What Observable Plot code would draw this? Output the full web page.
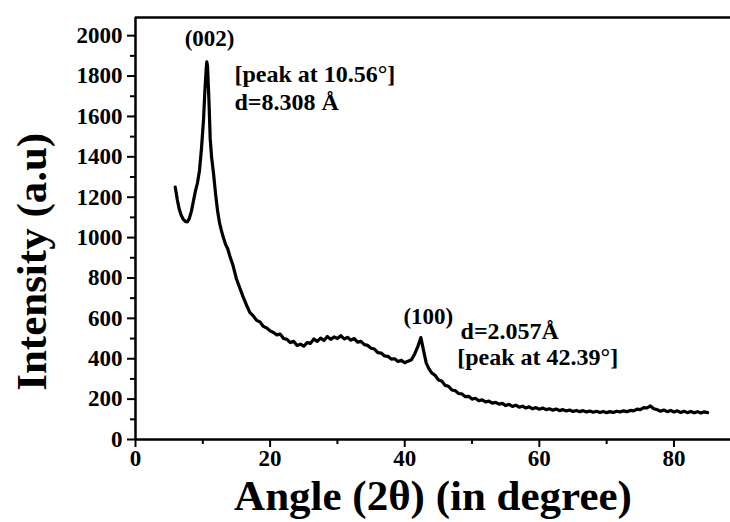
<!DOCTYPE html>
<html><head><meta charset="utf-8">
<script src="https://cdn.jsdelivr.net/npm/d3@7"></script>
<script src="https://cdn.jsdelivr.net/npm/@observablehq/plot@0.6"></script>
<style>body{margin:0;background:#fff}</style>
</head><body><div id="chart"></div>
<script>
const angle = [5.9,6.2,6.5,6.8,7.1,7.4,7.7,8.0,8.3,8.6,8.9,9.2,9.5,9.8,10.1,10.3,10.5,10.6,10.7,10.9,
11.1,11.3,11.6,11.9,12.2,12.5,12.8,13.1,13.4,13.7,14.0,14.5,15.0,15.5,16.0,16.5,
17.0,17.5,18.0,18.5,19.0,19.5,20.0,20.5,21.0,21.5,22.0,22.5,23.0,23.5,24.0,24.5,25.0,25.5,26.0,26.5,
27.0,27.5,28.0,28.5,29.0,29.5,30.0,30.5,31.0,31.5,32.0,32.5,33.0,33.5,34.0,34.5,35.0,35.5,36.0,36.5,
37.0,37.5,38.0,38.5,39.0,39.5,40.0,40.5,41.0,41.5,42.0,42.4,42.8,43.2,43.6,
44.0,44.5,45.0,45.5,46.0,46.5,47.0,47.5,48.0,48.5,49.0,49.5,50.0,50.5,51.0,51.5,52.0,52.5,53.0,53.5,
54.0,54.5,55.0,55.5,56.0,56.5,57.0,57.5,58.0,58.5,59.0,59.5,60.0,60.5,61.0,61.5,62.0,62.5,63.0,63.5,
64.0,64.5,65.0,65.5,66.0,66.5,67.0,67.5,68.0,68.5,69.0,69.5,70.0,70.5,71.0,71.5,72.0,72.5,73.0,73.5,
74.0,74.5,75.0,75.5,76.0,76.5,77.0,77.5,78.0,78.5,79.0,79.5,80.0,80.5,81.0,81.5,82.0,82.5,83.0,83.5,
84.0,84.5,85.0];
const intensity = [1250,1190,1140,1110,1090,1080,1078,1095,1130,1180,1230,1270,1330,1440,1580,1720,1835,1870,1850,1690,
1490,1400,1315,1215,1130,1070,1030,995,965,945,910,860,795,750,705,665,
628,612,590,582,560,552,538,530,518,522,500,496,480,486,466,472,462,480,476,498,
486,502,490,510,496,508,500,514,498,506,492,500,482,486,470,466,452,448,430,428,
414,412,398,400,386,392,380,388,395,425,465,505,440,378,350,
330,318,295,290,268,264,245,242,228,226,212,214,200,204,192,196,186,190,180,184,
175,179,168,174,164,170,160,165,156,162,152,158,150,156,148,152,145,151,143,148,
141,146,139,144,138,143,136,141,135,140,134,139,133,138,134,140,136,142,138,144,
142,150,148,158,156,166,152,148,140,146,138,144,136,142,134,140,133,139,132,138,
131,137,133];

const xMajorTicks = [0,20,40,60,80];
const xMinorTicks = [10,30,50,70];
const yMajorTicks = [0,200,400,600,800,1000,1200,1400,1600,1800,2000];
const yMinorTicks = [100,300,500,700,900,1100,1300,1500,1700,1900];

const noteText = ["(002)","[peak at 10.56°]","d=8.308 Å","(100)","d=2.057Å","[peak at 42.39°]"];
const noteX = [11.0,14.7,14.7,43.5,48.3,47.8];
const noteY = [1985,1811,1672,607,538,409];
const noteCentered = [true,false,false,true,false,false];

const xTitle = "Angle (2θ) (in degree)";
const yTitle = "Intensity (a.u)";

const data = angle.map((a,i)=>({angle:a, intensity:intensity[i]}));
const notes = noteText.map((t,i)=>({text:t, x:noteX[i], y:noteY[i], c:noteCentered[i]}));

const font = "'Liberation Serif','Times New Roman',serif";
const chart = Plot.plot({
  width:730, height:522,
  marginLeft:135, marginRight:0, marginTop:17, marginBottom:83,
  style:{fontFamily:font, fontWeight:"bold", fontSize:"23px", background:"#fff", color:"#000"},
  x:{domain:[0,88.4]},
  y:{domain:[0,2090]},
  marks:[
    Plot.axisX({ticks:xMinorTicks, tickSize:5, text:null, label:null, strokeWidth:2}),
    Plot.axisX({ticks:xMajorTicks, tickSize:8, tickPadding:2, label:null, strokeWidth:2, fontSize:23, fontWeight:"bold", fontFamily:font}),
    Plot.axisY({ticks:yMinorTicks, tickSize:5, text:null, label:null, strokeWidth:2}),
    Plot.axisY({ticks:yMajorTicks, tickSize:8, tickPadding:5, label:null, strokeWidth:2, fontSize:23, fontWeight:"bold", fontFamily:font, tickFormat:d=>String(d)}),
    Plot.ruleX([0],{strokeWidth:2.5}),
    Plot.ruleY([0],{strokeWidth:2.5}),
    Plot.ruleY([2090],{strokeWidth:2.5}),
    Plot.line(data,{x:"angle", y:"intensity", stroke:"#000", strokeWidth:3.2, strokeLinejoin:"round"}),
    Plot.text(notes.filter(d=>d.c),{x:"x", y:"y", text:"text", textAnchor:"middle", fontSize:23, fontWeight:"bold", fontFamily:font}),
    Plot.text(notes.filter(d=>!d.c),{x:"x", y:"y", text:"text", textAnchor:"start", fontSize:24, fontWeight:"bold", fontFamily:font}),
    Plot.text([xTitle],{frameAnchor:"bottom", dy:70, fontSize:43, fontWeight:"bold", fontFamily:font}),
    Plot.text([yTitle],{x:0, y:880, dx:-103, rotate:-90, fontSize:43, fontWeight:"bold", fontFamily:font})
  ]
});
document.getElementById("chart").append(chart);
</script>
</body></html>
